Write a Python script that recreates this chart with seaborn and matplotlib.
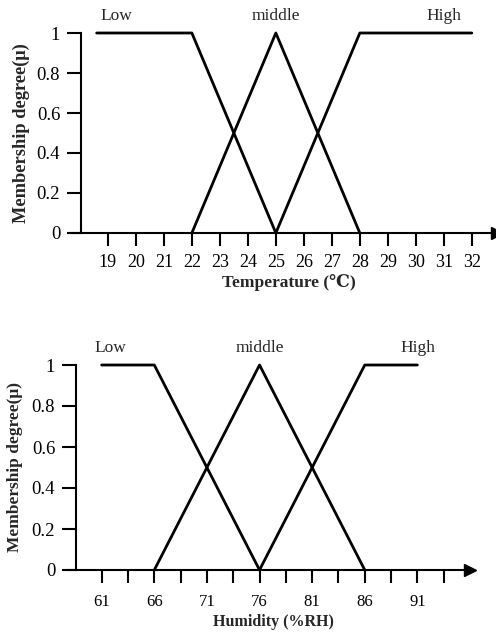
import matplotlib
matplotlib.use("Agg")
import matplotlib.pyplot as plt
import seaborn as sns
import pandas as pd

# ---- data ----
temp_low_x = [18.6, 22, 25]
temp_low_y = [1, 1, 0]
temp_mid_x = [22, 25, 28]
temp_mid_y = [0, 1, 0]
temp_high_x = [25, 28, 32]
temp_high_y = [0, 1, 1]
temp_ticks = list(range(19, 33))

hum_low_x = [61, 66, 76]
hum_low_y = [1, 1, 0]
hum_mid_x = [66, 76, 86]
hum_mid_y = [0, 1, 0]
hum_high_x = [76, 86, 91]
hum_high_y = [0, 1, 1]
hum_major_ticks = [61, 66, 71, 76, 81, 86, 91]
hum_minor_ticks = [63.5, 68.5, 73.5, 78.5, 83.5, 88.5, 93.5]

y_ticks = [0, 0.2, 0.4, 0.6, 0.8, 1]
y_tick_labels = ["0", "0.2", "0.4", "0.6", "0.8", "1"]
set_names = ["Low", "middle", "High"]
temp_label_x = [19.3, 25, 31.0]
hum_label_x = [61.8, 76, 91.1]

sns.set_theme(style="ticks")
plt.rcParams["font.family"] = ["Liberation Serif", "DejaVu Serif"]

W, H = 496, 635
fig = plt.figure(figsize=(W / 100, H / 100), dpi=100)

def px_axes(left, top, right, bottom):
    return fig.add_axes([left / W, 1 - bottom / H, (right - left) / W, (bottom - top) / H])

def style(ax, xlim, fs, xpad):
    ax.set_ylim(0, 1)
    ax.set_xlim(*xlim)
    for s in ["top", "right"]:
        ax.spines[s].set_visible(False)
    ax.spines["left"].set_linewidth(1.5)
    ax.spines["bottom"].set_linewidth(1.5)
    ax.spines["bottom"].set_bounds(xlim[0] - (xlim[1] - xlim[0]) * 0.024, xlim[1])
    ax.spines["left"].set_color("black")
    ax.spines["bottom"].set_color("black")
    ax.set_yticks(y_ticks)
    ax.set_yticklabels(y_tick_labels, fontsize=fs)
    ax.tick_params(axis="y", direction="out", length=10, width=1.5, pad=5, colors="black")
    ax.tick_params(axis="x", which="both", direction="out", length=9, width=1.5, pad=xpad, colors="black")
    ax.plot(1, 0, ">", color="black", markersize=8, transform=ax.get_yaxis_transform(), clip_on=False)
    ax.set_facecolor("white")

def draw(ax, xs, ys):
    for x, y in zip(xs, ys):
        df = pd.DataFrame({"x": x, "y": y})
        sns.lineplot(data=df, x="x", y="y", ax=ax, color="black", linewidth=2.0,
                     sort=False, estimator=None, clip_on=False)

# top: temperature
ax1 = px_axes(81, 33, 497, 233)
draw(ax1, [temp_low_x, temp_mid_x, temp_high_x], [temp_low_y, temp_mid_y, temp_high_y])
style(ax1, (18.04, 32.9), 13.5, 6)
ax1.set_xticks(temp_ticks)
ax1.set_xticklabels([str(t) for t in temp_ticks], fontsize=13)
ax1.set_xlabel("Temperature (℃)", fontsize=12.5, fontweight="bold", labelpad=2)
ax1.set_ylabel("Membership degree(μ)", fontsize=13.2, fontweight="bold", labelpad=5)
for name, lx in zip(set_names, temp_label_x):
    ax1.text(lx, 1.085, name, ha="center", va="center", fontsize=12.5)

# bottom: humidity
ax2 = px_axes(76, 365, 470, 570)
draw(ax2, [hum_low_x, hum_mid_x, hum_high_x], [hum_low_y, hum_mid_y, hum_high_y])
style(ax2, (58.56, 96.0), 13.5, 8)
ax2.set_xticks(hum_major_ticks)
ax2.set_xticklabels([str(t) for t in hum_major_ticks], fontsize=12)
ax2.set_xticks(hum_minor_ticks, minor=True)
ax2.set_xlabel("Humidity (%RH)", fontsize=11.5, fontweight="bold", labelpad=3)
ax2.set_ylabel("Membership degree(μ)", fontsize=12.5, fontweight="bold", labelpad=6)
for name, lx in zip(set_names, hum_label_x):
    ax2.text(lx, 1.085, name, ha="center", va="center", fontsize=12.5)

fig.savefig("out.png", dpi=100, facecolor="white")
